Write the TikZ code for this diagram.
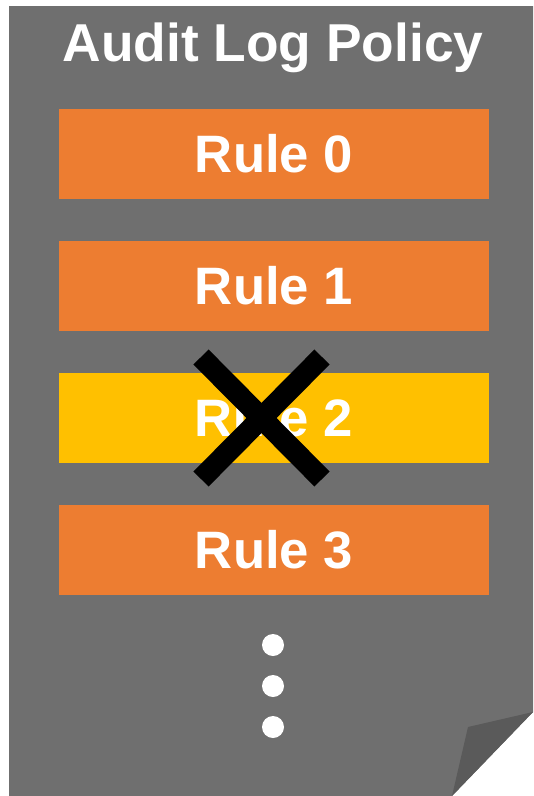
\documentclass[tikz,border=0pt]{standalone}
\usepackage{fontspec}
\setmainfont{Liberation Sans}
\definecolor{pagegray}{HTML}{6F6F6F}
\definecolor{foldgray}{HTML}{5A5A5A}
\definecolor{ruleorange}{HTML}{ED7D31}
\definecolor{ruleyellow}{HTML}{FFC000}
\usetikzlibrary{positioning,calc}

\begin{document}
\begin{tikzpicture}[x=0.75pt,y=-0.75pt,
  rulebox/.style={fill=ruleorange,minimum width=322.5pt,minimum height=67.5pt,
                  inner sep=0pt,text=white,font=\fontsize{39.5}{44}\selectfont\bfseries},
  skipped/.style={rulebox,fill=ruleyellow},
  dot/.style={circle,fill=white,minimum size=16.5pt,inner sep=0pt},
  cross/.style={line width=16pt,black}
]
\useasboundingbox (0,0) rectangle (534,796);
% page with folded corner
\fill[pagegray] (9,6) -- (533,6) -- (533,712) -- (452,796) -- (9,796) -- cycle;
\fill[foldgray] (452,796) -- (468,727) -- (533,712) -- cycle;

\node[text=white,font=\fontsize{40}{46}\selectfont\bfseries] (title) at (273,48) {Audit Log Policy};

\node[rulebox] (r0) at (274,154) {Rule 0};
\node[rulebox] (r1) at (274,286) {Rule 1};
\node[skipped] (r2) at (274,418) {Rule 2};
\node[rulebox] (r3) at (274,550) {Rule 3};

\node[dot] (d1) at (273,645) {};
\node[dot] (d2) at (273,686) {};
\node[dot] (d3) at (273,727) {};

% rule 2 is removed
\draw[cross] (201,357) -- (322,479);
\draw[cross] (322,357) -- (201,479);
\end{tikzpicture}
\end{document}
